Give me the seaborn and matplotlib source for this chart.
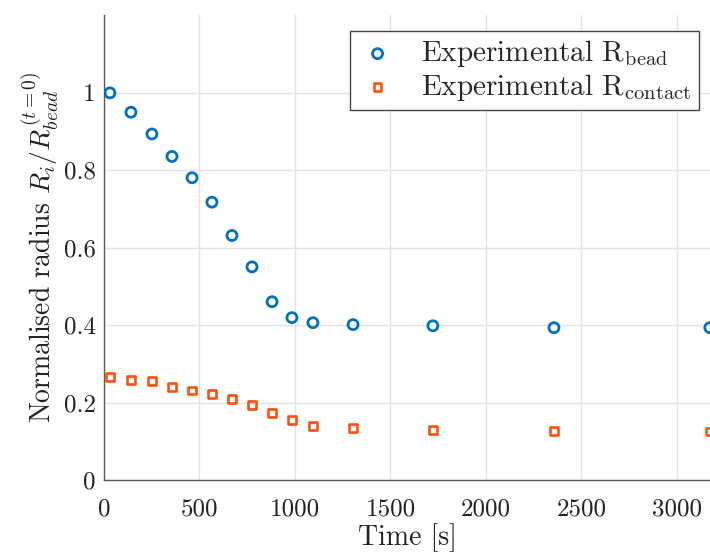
import matplotlib
matplotlib.use("Agg")
import matplotlib.pyplot as plt
import seaborn as sns
import numpy as np

time_bead = [31, 141, 251, 356, 461, 565, 670, 775, 880, 984, 1094, 1304, 1722, 2356, 3172]
r_bead = [0.999, 0.949, 0.893, 0.835, 0.780, 0.717, 0.631, 0.550, 0.460, 0.419, 0.406, 0.401, 0.398, 0.393, 0.393]
time_contact = [31, 141, 251, 356, 461, 565, 670, 775, 880, 984, 1094, 1304, 1722, 2356, 3172]
r_contact = [0.266, 0.258, 0.255, 0.240, 0.231, 0.222, 0.209, 0.193, 0.174, 0.155, 0.140, 0.134, 0.129, 0.127, 0.125]
x_ticks = [0, 500, 1000, 1500, 2000, 2500, 3000]
y_ticks = [0, 0.2, 0.4, 0.6, 0.8, 1.0]
y_tick_labels = ["0", "0.2", "0.4", "0.6", "0.8", "1"]
labels = [r"Experimental R$_{\mathrm{bead}}$", r"Experimental R$_{\mathrm{contact}}$"]

sns.set_style("white")
plt.rcParams["font.family"] = ["cmr10", "DejaVu Serif"]
plt.rcParams["mathtext.fontset"] = "cm"
plt.rcParams["axes.formatter.use_mathtext"] = True

fig = plt.figure(figsize=(7.10, 5.52), dpi=100)
ax = fig.add_axes([104/710, 1-480/552, 1-104/710, (480-15)/552])

blue = "#0072BD"
orange = "#FF5010"
sns.scatterplot(x=time_bead, y=r_bead, ax=ax, marker="o", s=52,
                facecolor="none", edgecolor=blue, linewidth=2.0, label=labels[0],
                clip_on=True, zorder=3)
sns.scatterplot(x=time_contact, y=r_contact, ax=ax, marker="s", s=32,
                facecolor="none", edgecolor=orange, linewidth=1.9, label=labels[1],
                clip_on=True, zorder=3)

ax.set_xlim(0, 3173)
ax.set_ylim(0, 1.2)
ax.set_xticks(x_ticks)
ax.set_xticklabels([str(t) for t in x_ticks])
ax.set_yticks(y_ticks)
ax.set_yticklabels(y_tick_labels)
ax.grid(True, color="#e3e3e3", linewidth=1.0)
ax.set_axisbelow(True)
for s in ["top", "right"]:
    ax.spines[s].set_visible(False)
for s in ["left", "bottom"]:
    ax.spines[s].set_color("#5a5a5a")
    ax.spines[s].set_linewidth(1.0)
ax.tick_params(direction="in", length=5, width=0.8, color="#5a5a5a",
               labelsize=18, labelcolor="#222222")
ax.tick_params(axis="x", pad=13)
ax.tick_params(axis="y", pad=6)
ax.set_xlabel("Time [s]", fontsize=20, color="#222222", labelpad=2)
ax.set_ylabel(r"Normalised radius $R_i/R_{bead}^{(t=0)}$", fontsize=20, color="#222222", labelpad=2)

leg = ax.legend(loc="upper right", bbox_to_anchor=((699-104)/606, (480-31)/465),
                fontsize=21, frameon=True, fancybox=False, framealpha=1,
                edgecolor="#444444", handletextpad=0.8, borderpad=0.25,
                labelspacing=0.08, handlelength=1.4, borderaxespad=0)
leg.get_frame().set_linewidth(1.0)

fig.savefig("out.png", dpi=100)
